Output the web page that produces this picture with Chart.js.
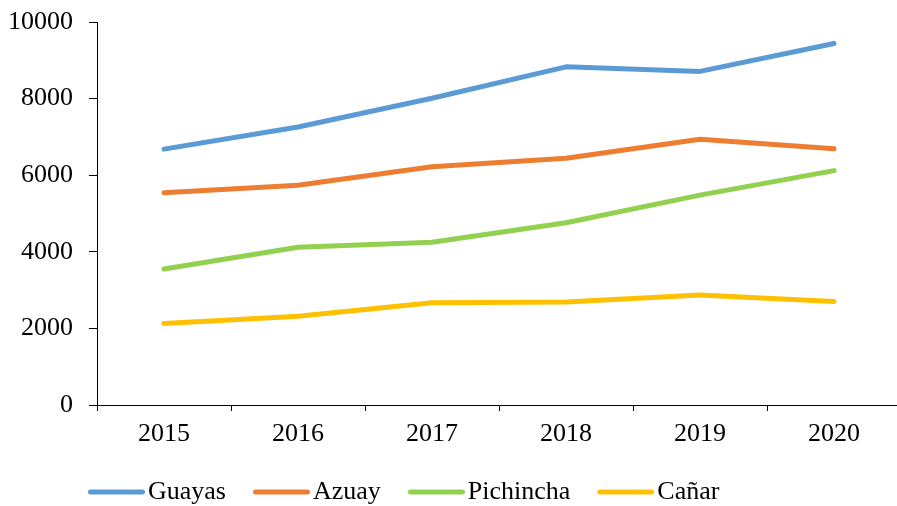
<!DOCTYPE html>
<html>
<head>
<meta charset="utf-8">
<script src="https://cdn.jsdelivr.net/npm/chart.js@4/dist/chart.umd.min.js"></script>
<style>
  html, body { margin: 0; padding: 0; background: #fff; overflow: hidden; }
  #wrap { width: 901px; height: 506px; }
</style>
</head>
<body>
<div id="wrap"><canvas id="c" width="901" height="506"></canvas></div>
<script>
const years = ['2015', '2016', '2017', '2018', '2019', '2020'];
const guayas = [6680, 7260, 8010, 8830, 8710, 9440];
const azuay = [5540, 5740, 6220, 6440, 6940, 6690];
const pichincha = [3550, 4120, 4250, 4760, 5480, 6120];
const canar = [2130, 2320, 2670, 2690, 2870, 2700];
const seriesNames = ['Guayas', 'Azuay', 'Pichincha', 'Cañar'];
const seriesColors = ['#5B9BD5', '#ED7D31', '#92D050', '#FFC000'];
const yTickLabels = ['0', '2000', '4000', '6000', '8000', '10000'];

const FONT = '"Liberation Serif", "Times New Roman", serif';

function legendSwatch(color) {
  const cv = document.createElement('canvas');
  cv.width = 67; cv.height = 10;
  const g = cv.getContext('2d');
  g.strokeStyle = color;
  g.lineWidth = 5;
  g.lineCap = 'round';
  g.beginPath();
  g.moveTo(12.5, 5);
  g.lineTo(64.5, 5);
  g.stroke();
  return cv;
}
const swatches = seriesColors.map(legendSwatch);

const allSeries = [guayas, azuay, pichincha, canar];
const datasets = allSeries.map((vals, i) => ({
  label: seriesNames[i],
  data: vals,
  borderColor: seriesColors[i],
  backgroundColor: seriesColors[i],
  borderWidth: 5,
  borderCapStyle: 'round',
  borderJoinStyle: 'round',
  pointRadius: 0,
  pointHoverRadius: 0,
  tension: 0,
  fill: false
}));

const legendPlace = {
  id: 'legendPlace',
  afterLayout(chart) {
    const lg = chart.legend;
    if (!lg) return;
    lg.left = 61;
    lg.top = 452;
    lg.bottom = lg.top + lg.height;
  }
};

new Chart(document.getElementById('c'), {
  type: 'line',
  data: { labels: years, datasets },
  plugins: [legendPlace],
  options: {
    responsive: false,
    animation: false,
    devicePixelRatio: 1,
    layout: { padding: { top: 22, left: 0, right: 0, bottom: 0 } },
    plugins: {
      tooltip: { enabled: false },
      legend: {
        position: 'bottom',
        align: 'start',
        labels: {
          color: '#000',
          font: { family: FONT, size: 26 },
          usePointStyle: true,
          pointStyleWidth: 47,
          padding: 27,
          generateLabels(chart) {
            const items = Chart.defaults.plugins.legend.labels.generateLabels(chart);
            items.forEach((it, i) => { it.pointStyle = swatches[i]; it.fontColor = '#000'; });
            return items;
          }
        }
      }
    },
    scales: {
      x: {
        offset: true,
        afterFit(s) { s.height = 38; s.paddingLeft = 0; s.paddingRight = 0; },
        grid: { display: true, drawOnChartArea: false, drawTicks: true, tickLength: 6, color: '#000', offset: true },
        border: { display: true, color: '#000', width: 1 },
        ticks: { color: '#000', font: { family: FONT, size: 26 }, padding: 8, maxRotation: 0 }
      },
      y: {
        min: 0,
        max: 10000,
        afterFit(s) { s.width = 97; s.paddingTop = 0; s.paddingBottom = 0; },
        grid: { display: true, drawOnChartArea: false, drawTicks: true, tickLength: 8, color: '#000' },
        border: { display: true, color: '#000', width: 1 },
        ticks: {
          stepSize: 2000,
          color: '#000',
          font: { family: FONT, size: 26 },
          padding: 16,
          callback(v) { return yTickLabels[Math.round(v / 2000)]; }
        }
      }
    }
  }
});
</script>
</body>
</html>
